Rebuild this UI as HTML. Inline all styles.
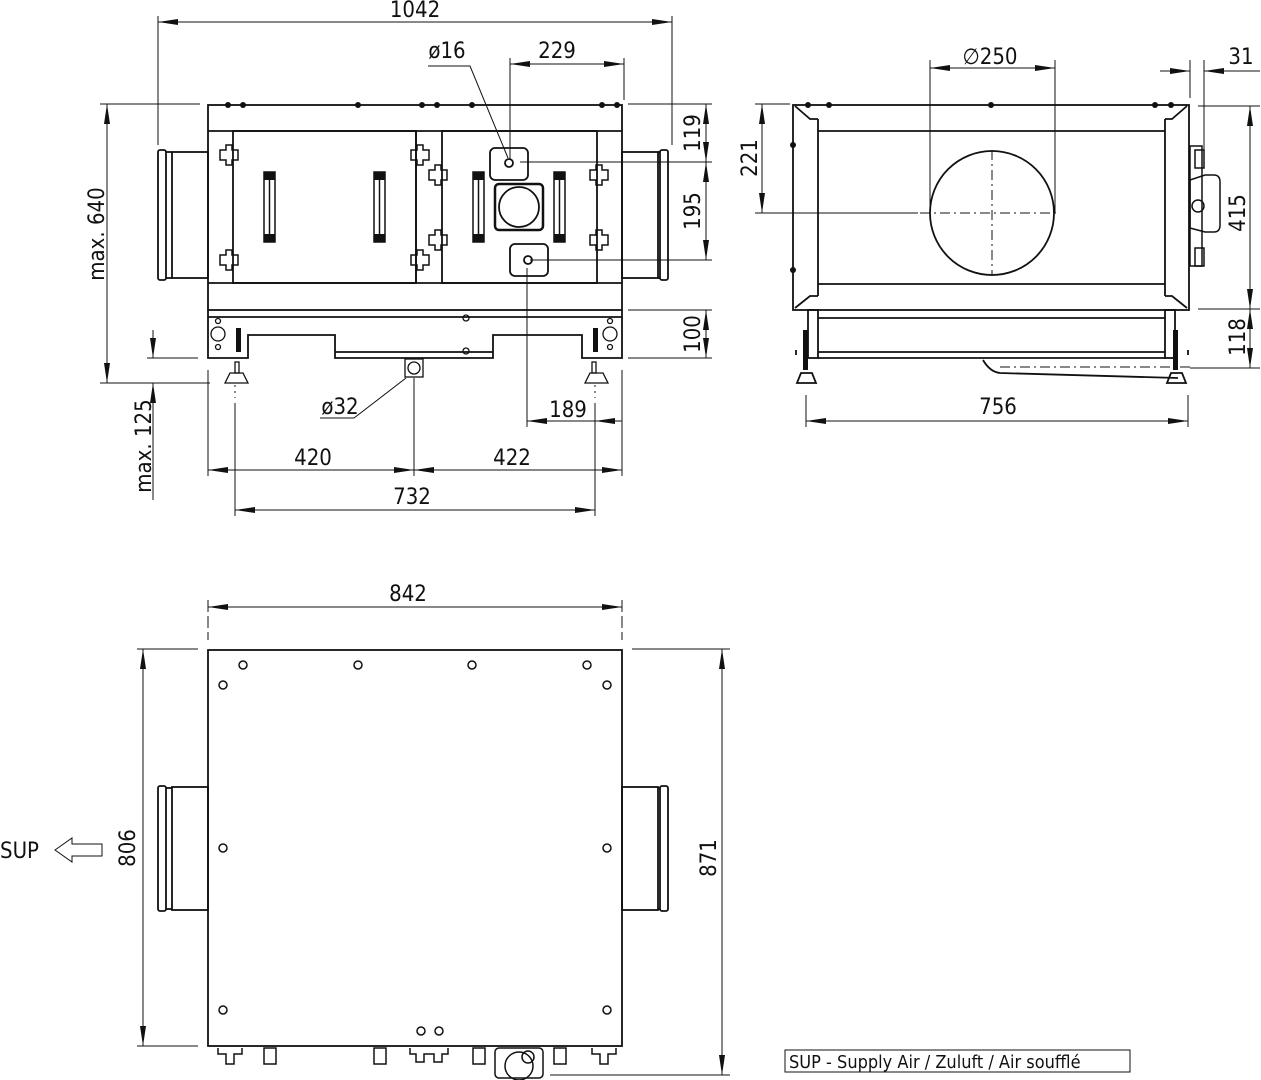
<!DOCTYPE html>
<html><head><meta charset="utf-8"><style>
html,body{margin:0;padding:0;background:#fff;}
svg{display:block;}
text{font-family:"DejaVu Sans Condensed","DejaVu Sans","Liberation Sans",sans-serif;font-size:22px;fill:#111;}
</style></head><body>
<svg width="1261" height="1080" viewBox="0 0 1261 1080" xmlns="http://www.w3.org/2000/svg">
<defs>
<marker id="a" viewBox="0 0 20 6" refX="20" refY="3" markerWidth="20" markerHeight="6" markerUnits="userSpaceOnUse" orient="auto-start-reverse"><path d="M0,0 L20,3 L0,6 Z" fill="#111"/></marker>
</defs>
<g fill="none" stroke="#111" stroke-width="1">
<line x1="158" y1="16" x2="158" y2="145"/><line x1="672" y1="16" x2="672" y2="145"/>
<line x1="158" y1="22" x2="672" y2="22" marker-start="url(#a)" marker-end="url(#a)"/>
<line x1="510" y1="58" x2="510" y2="160"/><line x1="624" y1="58" x2="624" y2="100"/>
<line x1="510" y1="64" x2="624" y2="64" marker-start="url(#a)" marker-end="url(#a)"/>
<polyline points="428,66 470,66 508,158"/>
<line x1="628" y1="104" x2="712" y2="104"/><line x1="520" y1="162" x2="712" y2="162"/>
<line x1="530" y1="260" x2="712" y2="260"/><line x1="628" y1="310" x2="712" y2="310"/>
<line x1="628" y1="358" x2="712" y2="358"/>
<line x1="706" y1="104" x2="706" y2="162" marker-start="url(#a)" marker-end="url(#a)"/>
<line x1="706" y1="162" x2="706" y2="260" marker-start="url(#a)" marker-end="url(#a)"/>
<line x1="706" y1="310" x2="706" y2="358" marker-start="url(#a)" marker-end="url(#a)"/>
<line x1="100" y1="104" x2="200" y2="104"/><line x1="100" y1="383" x2="210" y2="383"/>
<line x1="107" y1="104" x2="107" y2="383" marker-start="url(#a)" marker-end="url(#a)"/>
<line x1="147" y1="358" x2="198" y2="358"/>
<line x1="153" y1="330" x2="153" y2="358" marker-end="url(#a)"/>
<line x1="153" y1="500" x2="153" y2="383" marker-end="url(#a)"/>
<line x1="208" y1="370" x2="208" y2="476"/><line x1="622" y1="370" x2="622" y2="476"/>
<line x1="235" y1="403" x2="235" y2="516"/><line x1="595" y1="403" x2="595" y2="516"/>
<line x1="414" y1="378" x2="414" y2="476"/>
<line x1="527" y1="268" x2="527" y2="427"/>
<line x1="527" y1="421" x2="595" y2="421" marker-start="url(#a)"/>
<line x1="595" y1="421" x2="622" y2="421" marker-start="url(#a)"/>
<line x1="208" y1="470" x2="414" y2="470" marker-start="url(#a)" marker-end="url(#a)"/>
<line x1="414" y1="470" x2="622" y2="470" marker-start="url(#a)" marker-end="url(#a)"/>
<line x1="235" y1="510" x2="595" y2="510" marker-start="url(#a)" marker-end="url(#a)"/>
<polyline points="320,418 354,418 406,378"/>
<line x1="235" y1="385" x2="235" y2="398" stroke-dasharray="2,4"/>
<line x1="595" y1="385" x2="595" y2="398" stroke-dasharray="2,4"/>

<g stroke-width="1.8">
<rect x="208" y="105" width="414" height="205"/>
<line x1="208" y1="131" x2="622" y2="131"/>
<line x1="208" y1="283" x2="622" y2="283"/>
<rect x="233" y="131" width="183" height="152"/>
<rect x="442" y="131" width="155" height="152"/>
<line x1="416" y1="131" x2="416" y2="283"/>
<rect x="172" y="152" width="36" height="126"/>
<rect x="158" y="150" width="8" height="130" rx="2"/>
<line x1="166" y1="152" x2="172" y2="152"/><line x1="166" y1="278" x2="172" y2="278"/>
<rect x="622" y="152" width="36" height="126"/>
<rect x="660" y="150" width="8" height="130" rx="2"/>
<line x1="658" y1="152" x2="660" y2="152"/><line x1="658" y1="278" x2="660" y2="278"/>
<line x1="208" y1="317" x2="622" y2="317"/>
<path d="M208,310 V358 H248 V335 H335 V358 H493 V335 H582 V358 H622 V310"/>
<line x1="335" y1="352" x2="493" y2="352"/>
</g>
<g fill="#111" stroke="none">
<circle cx="228" cy="105" r="3"/><circle cx="243" cy="105" r="3"/><circle cx="358" cy="105" r="3"/>
<circle cx="422" cy="105" r="3"/><circle cx="437" cy="105" r="3"/><circle cx="472" cy="105" r="3"/>
<circle cx="602" cy="105" r="3"/><circle cx="617" cy="105" r="3"/>
</g>
<g stroke-width="1.5">
<rect x="264" y="172" width="11" height="70"/><rect x="374" y="172" width="11" height="70"/>
<rect x="473" y="172" width="11" height="70"/><rect x="554" y="172" width="11" height="70"/>
<line x1="269.5" y1="180" x2="269.5" y2="234"/><line x1="379.5" y1="180" x2="379.5" y2="234"/>
<line x1="478.5" y1="180" x2="478.5" y2="234"/><line x1="559.5" y1="180" x2="559.5" y2="234"/>
</g>
<g fill="#111" stroke="none">
<rect x="264" y="172" width="11" height="8"/><rect x="264" y="234" width="11" height="8"/>
<rect x="374" y="172" width="11" height="8"/><rect x="374" y="234" width="11" height="8"/>
<rect x="473" y="172" width="11" height="8"/><rect x="473" y="234" width="11" height="8"/>
<rect x="554" y="172" width="11" height="8"/><rect x="554" y="234" width="11" height="8"/>
</g>
<g stroke-width="1.5">
<path d="M220,150h6v-5h6v5h6v10h-6v5h-6v-5h-6z"/><path d="M220,255h6v-5h6v5h6v10h-6v5h-6v-5h-6z"/>
<path d="M411,150h6v-5h6v5h6v10h-6v5h-6v-5h-6z"/><path d="M411,255h6v-5h6v5h6v10h-6v5h-6v-5h-6z"/>
<path d="M429,170h6v-5h6v5h6v10h-6v5h-6v-5h-6z"/><path d="M429,235h6v-5h6v5h6v10h-6v5h-6v-5h-6z"/>
<path d="M590,170h6v-5h6v5h6v10h-6v5h-6v-5h-6z"/><path d="M590,235h6v-5h6v5h6v10h-6v5h-6v-5h-6z"/>
</g>
<g stroke-width="1.8">
<rect x="490" y="148" width="38" height="32" rx="5"/><circle cx="509" cy="163" r="4"/>
<rect x="510" y="244" width="38" height="32" rx="5"/><circle cx="528" cy="260" r="4"/>
<rect x="495" y="184" width="48" height="46" rx="4" stroke-width="2.5"/>
<circle cx="519" cy="207" r="20"/>
</g>
<g stroke-width="1.3">
<circle cx="218" cy="334" r="7"/><circle cx="218" cy="321" r="2.5"/><circle cx="218" cy="347" r="2.5"/>
<circle cx="610" cy="334" r="7"/><circle cx="610" cy="321" r="2.5"/><circle cx="610" cy="347" r="2.5"/>
<circle cx="466" cy="318" r="3"/><circle cx="466" cy="351" r="3"/>
<rect x="405" y="359" width="18" height="18"/><circle cx="414" cy="368" r="6"/>
<path d="M225,383 L230,373 H243 L248,383 Z"/><path d="M585,383 L590,373 H603 L608,383 Z"/>
<rect x="235" y="362" width="4" height="11"/><rect x="592" y="362" width="4" height="11"/>
</g>
<g fill="#111" stroke="none"><rect x="236" y="328" width="5" height="24"/><rect x="593" y="328" width="5" height="24"/></g>

<line x1="930" y1="60" x2="930" y2="213"/><line x1="1055" y1="60" x2="1055" y2="213"/>
<line x1="930" y1="68" x2="1055" y2="68" marker-start="url(#a)" marker-end="url(#a)"/>
<line x1="1190" y1="60" x2="1190" y2="98"/><line x1="1204" y1="60" x2="1204" y2="160"/>
<line x1="1160" y1="71" x2="1190" y2="71" marker-end="url(#a)"/>
<line x1="1260" y1="71" x2="1204" y2="71" marker-end="url(#a)"/>
<line x1="755" y1="104" x2="790" y2="104"/><line x1="755" y1="213" x2="918" y2="213"/>
<line x1="762" y1="104" x2="762" y2="213" marker-start="url(#a)" marker-end="url(#a)"/>
<line x1="1198" y1="106" x2="1260" y2="106"/><line x1="1198" y1="309" x2="1260" y2="309"/>
<line x1="1190" y1="368" x2="1260" y2="368"/>
<line x1="1250" y1="106" x2="1250" y2="309" marker-start="url(#a)" marker-end="url(#a)"/>
<line x1="1250" y1="309" x2="1250" y2="368" marker-start="url(#a)" marker-end="url(#a)"/>
<line x1="806" y1="395" x2="806" y2="427"/><line x1="1188" y1="395" x2="1188" y2="427"/>
<line x1="806" y1="421" x2="1188" y2="421" marker-start="url(#a)" marker-end="url(#a)"/>
<g stroke-width="1.8">
<rect x="793" y="105" width="396" height="205"/>
<line x1="818" y1="131" x2="1165" y2="131"/><line x1="818" y1="284" x2="1165" y2="284"/>
<line x1="818" y1="119" x2="818" y2="296"/><line x1="1165" y1="119" x2="1165" y2="296"/>
<path d="M795,106 L810,119 H818"/><path d="M1187,106 L1172,119 H1165"/>
<path d="M795,308 L810,296 H818"/><path d="M1187,308 L1172,296 H1165"/>
<circle cx="992" cy="213" r="62"/>
<rect x="808" y="310" width="10" height="48"/><rect x="1165" y="310" width="10" height="48"/>
<line x1="818" y1="318" x2="1165" y2="318"/><line x1="818" y1="352" x2="1165" y2="352"/>
<line x1="818" y1="358" x2="1165" y2="358"/>
<path d="M797,383 L801,373 H812 L816,383 Z"/><path d="M1167,383 L1171,373 H1182 L1186,383 Z"/>
<path d="M983,360 Q990,372 1000,373 L1178,378"/>
<path d="M796,355 v-5 M1188,355 v-5"/>
</g>
<line x1="992" y1="150" x2="992" y2="276" stroke-dasharray="10,4,2,4"/>
<line x1="920" y1="213" x2="1056" y2="213" stroke-dasharray="10,4,2,4"/>
<line x1="1000" y1="367" x2="1190" y2="367" stroke-dasharray="10,4,2,4"/>
<g fill="#111" stroke="none">
<circle cx="808" cy="105" r="3"/><circle cx="829" cy="105" r="3"/><circle cx="991" cy="105" r="3"/>
<circle cx="1155" cy="105" r="3"/><circle cx="1171" cy="105" r="3"/>
<rect x="803" y="330" width="5" height="40"/><rect x="1173" y="330" width="5" height="40"/>
<circle cx="793" cy="145" r="3"/><circle cx="793" cy="270" r="3"/>
</g>
<g stroke-width="1.5">
<rect x="1190" y="146" width="12" height="120"/>
<rect x="1195" y="150" width="9" height="18"/><rect x="1195" y="248" width="9" height="18"/>
<path d="M1190,180 L1205,175 H1214 Q1220,175 1220,182 V225 Q1220,232 1214,232 H1205 L1190,228 Z"/>
<circle cx="1198" cy="206" r="6"/>
</g>

<line x1="208" y1="600" x2="208" y2="640" stroke-dasharray="12,4"/><line x1="622" y1="600" x2="622" y2="640" stroke-dasharray="12,4"/>
<line x1="208" y1="607" x2="622" y2="607" marker-start="url(#a)" marker-end="url(#a)"/>
<line x1="137" y1="649" x2="198" y2="649"/><line x1="137" y1="1046" x2="198" y2="1046"/>
<line x1="143" y1="649" x2="143" y2="1046" marker-start="url(#a)" marker-end="url(#a)"/>
<line x1="632" y1="649" x2="730" y2="649"/><line x1="550" y1="1075" x2="730" y2="1075"/>
<line x1="722" y1="649" x2="722" y2="1075" marker-start="url(#a)" marker-end="url(#a)"/>
<g stroke-width="1.8">
<rect x="208" y="650" width="414" height="396"/>
<rect x="172" y="787" width="36" height="123"/><rect x="158" y="786" width="8" height="125" rx="2"/>
<line x1="166" y1="788" x2="172" y2="788"/><line x1="166" y1="909" x2="172" y2="909"/>
<rect x="622" y="787" width="36" height="123"/><rect x="660" y="786" width="8" height="125" rx="2"/>
<line x1="658" y1="788" x2="660" y2="788"/><line x1="658" y1="909" x2="660" y2="909"/>
</g>
<g stroke-width="1.5">
<circle cx="243" cy="665" r="4"/><circle cx="358" cy="665" r="4"/><circle cx="472" cy="665" r="4"/><circle cx="587" cy="665" r="4"/>
<circle cx="223" cy="685" r="4"/><circle cx="607" cy="685" r="4"/>
<circle cx="223" cy="848" r="4"/><circle cx="607" cy="848" r="4"/>
<circle cx="223" cy="1010" r="4"/><circle cx="607" cy="1010" r="4"/>
<circle cx="421" cy="1031" r="4"/><circle cx="439" cy="1031" r="4"/>
<path d="M218,1048 v6 h8 v10 h8 v-10 h8 v-6"/>
<rect x="264" y="1048" width="12" height="16"/><rect x="374" y="1048" width="12" height="16"/>
<path d="M410,1048 v6 h6 v8 h8 v-8 h10 v8 h8 v-8 h6 v-6"/>
<rect x="473" y="1048" width="12" height="16"/><rect x="554" y="1048" width="12" height="16"/>
<path d="M592,1048 v6 h8 v10 h8 v-10 h8 v-6"/>
<rect x="495" y="1048" width="48" height="30" rx="4"/>
<circle cx="528" cy="1057" r="6"/><circle cx="519" cy="1066" r="14"/>
</g>
<polygon points="55,850 72,838 72,844 102,844 102,856 72,856 72,862"/>
<rect x="785" y="1050" width="345" height="22"/>
</g>

<text x="415" y="17" text-anchor="middle">1042</text>
<text x="447" y="58" text-anchor="middle">ø16</text>
<text x="557" y="58" text-anchor="middle">229</text>
<text transform="translate(700,133) rotate(-90)" text-anchor="middle">119</text>
<text transform="translate(700,211) rotate(-90)" text-anchor="middle">195</text>
<text transform="translate(700,334) rotate(-90)" text-anchor="middle">100</text>
<text transform="translate(104,234) rotate(-90)" text-anchor="middle">max. 640</text>
<text transform="translate(151,446) rotate(-90)" text-anchor="middle">max. 125</text>
<text x="340" y="414" text-anchor="middle">ø32</text>
<text x="568" y="417" text-anchor="middle">189</text>
<text x="313" y="465" text-anchor="middle">420</text>
<text x="512" y="465" text-anchor="middle">422</text>
<text x="412" y="504" text-anchor="middle">732</text>
<text x="990" y="64" text-anchor="middle">∅250</text>
<text x="1241" y="64" text-anchor="middle">31</text>
<text transform="translate(757,158) rotate(-90)" text-anchor="middle">221</text>
<text transform="translate(1245,213) rotate(-90)" text-anchor="middle">415</text>
<text transform="translate(1245,337) rotate(-90)" text-anchor="middle">118</text>
<text x="998" y="414" text-anchor="middle">756</text>
<text x="408" y="601" text-anchor="middle">842</text>
<text transform="translate(135,848) rotate(-90)" text-anchor="middle">806</text>
<text transform="translate(716,858) rotate(-90)" text-anchor="middle">871</text>
<text x="0" y="858">SUP</text>
<text x="789" y="1068" style="font-size:18px">SUP - Supply Air / Zuluft / Air soufflé</text>
</svg>
</body></html>
